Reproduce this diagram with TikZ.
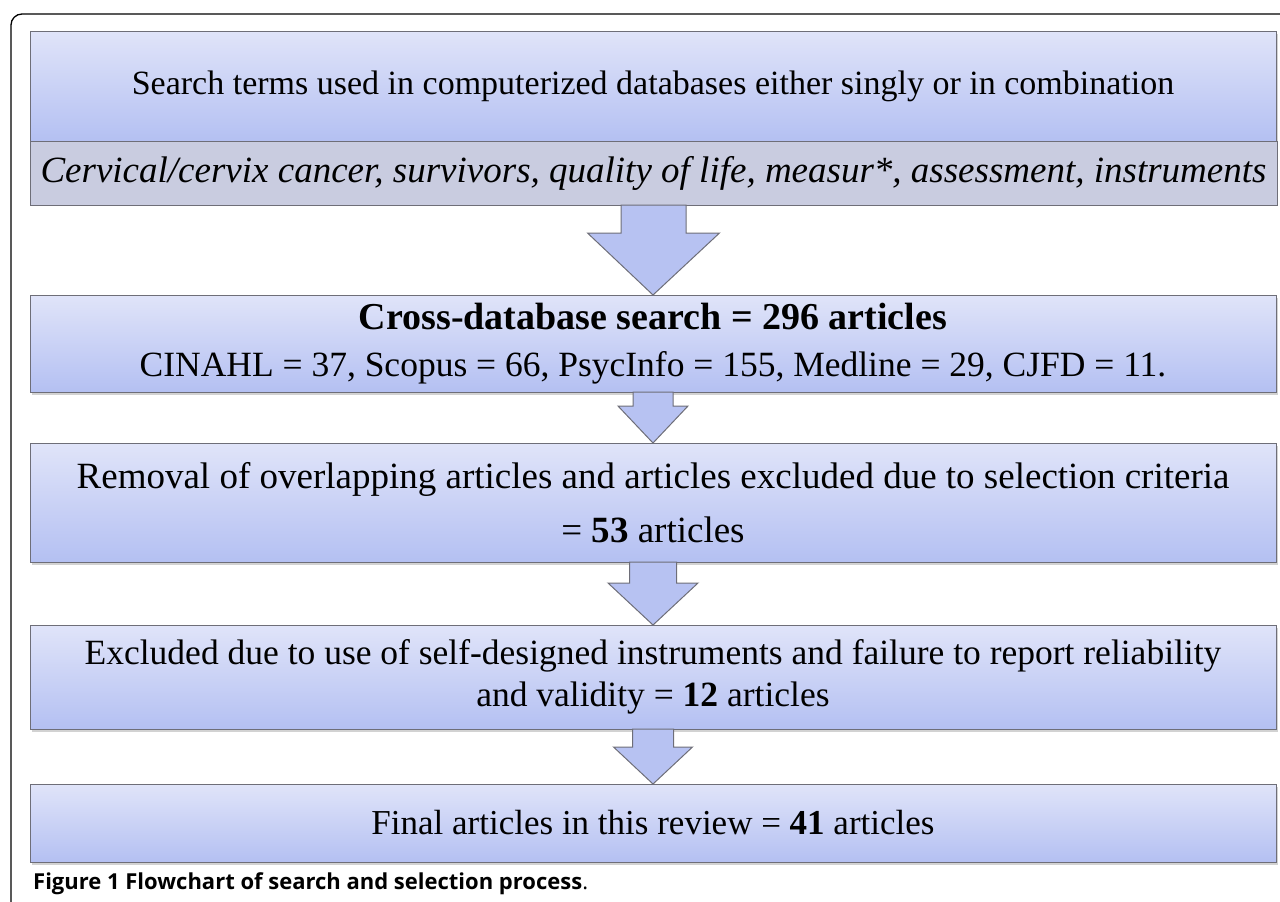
\documentclass[tikz,border=0pt]{standalone}
\usepackage{fontspec}
\setmainfont{Liberation Serif}
\newfontfamily\capfont{Open Sans}
\usetikzlibrary{shadows,calc}

\definecolor{boxtop}{HTML}{E0E4F9}
\definecolor{boxbottom}{HTML}{B4C0F2}
\definecolor{bandgray}{HTML}{C9CCE0}
\definecolor{edgegray}{HTML}{6E6E78}
\definecolor{arrowfill}{HTML}{B7C2F2}

% block arrow hanging from the bottom of #1 down to the top of #2
% #3 half shaft, #4 half head, #5 shaft length
\newcommand{\flowarrow}[5]{%
  \draw[flowstep] ($(#1.south)+(-#3,0)$) -- ($(#1.south)+(#3,0)$)
    -- ($(#1.south)+(#3,#5)$) -- ($(#1.south)+(#4,#5)$) -- (#2.north)
    -- ($(#1.south)+(-#4,#5)$) -- ($(#1.south)+(-#3,#5)$) -- cycle;}
\newcommand{\fsz}[1]{\fontsize{#1}{#1}\selectfont}

\begin{document}
\begin{tikzpicture}
[x=1pt,y=-1pt,
 flowbox/.style={draw=edgegray,line width=1pt,top color=boxtop,bottom color=boxbottom,
   minimum width=1246pt,inner sep=0pt,outer sep=0pt,align=center,
   drop shadow={shadow xshift=2pt,shadow yshift=-2.5pt,fill=gray!70}},
 termband/.style={draw=edgegray,line width=1pt,fill=bandgray,minimum width=1247pt,
   inner sep=0pt,outer sep=0pt},
 flowstep/.style={draw=edgegray,line width=1pt,fill=arrowfill,line join=miter}]
\useasboundingbox (0,0) rectangle (1280,902);
% frame
\draw[line width=1.3pt,rounded corners=11pt] (11,905) -- (11,14) -- (1283,14);
% boxes
\node[flowbox,minimum height=110pt,font=\fsz{34}] (search) at (653,86)
  {Search terms used in computerized databases either singly or in combination};
\node[termband,minimum height=64pt,font=\fsz{37}\itshape] (terms) at (653.5,173)
  {Cervical/cervix cancer, survivors, quality of life, measur*, assessment, instruments};
\node[flowbox,minimum height=97pt,font=\fsz{35.5}] (cross) at (653,343.5)
  {{\fsz{38}\textbf{Cross-database search = 296 articles}}\\[12pt]
   CINAHL = 37, Scopus = 66, PsycInfo = 155, Medline = 29, CJFD = 11.};
\node[flowbox,minimum height=119pt,font=\fsz{37}] (removal) at (653,502.5)
  {Removal of overlapping articles and articles excluded due to selection criteria\\[17pt]
   = \textbf{53} articles};
\node[flowbox,minimum height=104pt,font=\fsz{35.5}] (excluded) at (653,677)
  {Excluded due to use of self-designed instruments and failure to report reliability\\[6pt]
   and validity = \textbf{12} articles};
\node[flowbox,minimum height=78pt,font=\fsz{35}] (final) at (653,823)
  {Final articles in this review = \textbf{41} articles};
% arrows
\flowarrow{terms}{cross}{32.5}{66}{28}
\flowarrow{cross}{removal}{20}{35}{14}
\flowarrow{removal}{excluded}{23.5}{45}{21}
\flowarrow{excluded}{final}{20.5}{39.5}{18}
% caption
\node[anchor=west,inner sep=0pt,font=\capfont\fsz{22}] (caption) at (33,884)
  {\textbf{Figure 1 Flowchart of search and selection process}.};
\end{tikzpicture}
\end{document}
